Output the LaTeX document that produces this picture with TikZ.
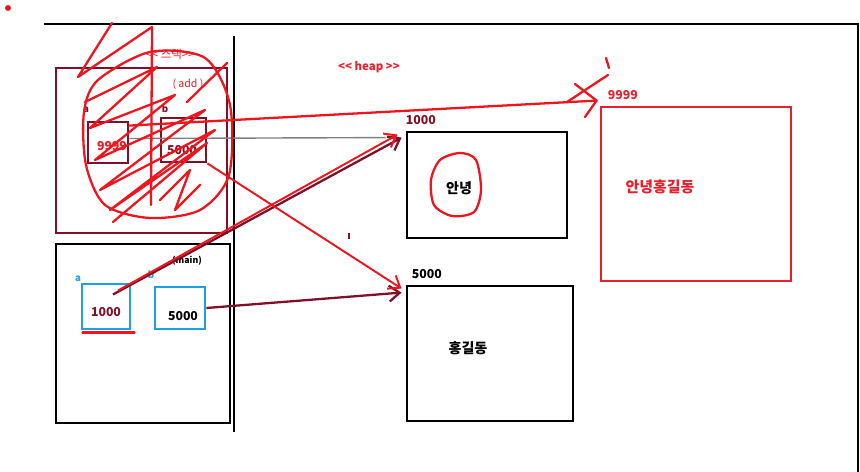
\documentclass[tikz,border=0pt]{standalone}
\usepackage{fontspec}
\setmainfont{Noto Sans CJK KR}
\usetikzlibrary{arrows.meta,calc,fit}

\definecolor{penred}{RGB}{240,20,30}
\definecolor{boxred}{RGB}{232,32,44}
\definecolor{stackred}{RGB}{128,16,40}
\definecolor{boxblue}{RGB}{28,162,226}

\begin{document}
\begin{tikzpicture}[x=0.02cm,y=-0.02cm,>={Straight Barb[length=6pt,width=9pt]},
    frame/.style={draw,line width=1.6pt,inner sep=0pt},
    val/.style={font=\fontsize{7}{8}\selectfont\bfseries},
    tag/.style={font=\fontsize{5.5}{6}\selectfont\bfseries},
    pen/.style={draw=penred,line width=1.3pt,line cap=round,line join=round}]
    \useasboundingbox (0,0) rectangle (860,472);
    \fill[penred] (8,8) circle (3);

    % window frame and the stack / heap divider
    \draw[line width=1.6pt] (44,24) -- (858,24) -- (858,472);
    \draw[line width=1.6pt] (234,36) -- (234,432);

    % stack: add() frame
    \node[frame,draw=stackred,fit={(56,68) (227,233)}] (add) {};
    \node[tag,text=stackred] (la) at (86,110) {a};
    \node[tag,text=stackred] (lb) at (165,109) {b};
    \node[frame,draw=stackred,fit={(88,122) (128,163)}] (sa) {};
    \node[frame,draw=stackred,fit={(161,118) (206,162)}] (sb) {};
    \node[val,text=penred] (va) at (112,146) {9999};
    \node[val,text=stackred] (vb) at (182,150) {5000};
    \node[font=\fontsize{6.5}{7}\selectfont,text=penred] (stk) at (170,54) {<\kern0pt< 스택>\kern0pt>};
    \node[font=\fontsize{6}{7}\selectfont,text=penred] (addl) at (188,84) {( add )};

    % stack: main() frame
    \node[frame,fit={(56,244) (230,423)}] (main) {};
    \node[font=\fontsize{5}{6}\selectfont\bfseries] (mainl) at (187,261) {(main)};
    \node[tag,text=boxblue] (lma) at (78,279) {a};
    \node[tag,text=boxblue] (lmb) at (151,275) {b};
    \node[frame,draw=boxblue,fit={(82,284) (130,329)}] (ma) {};
    \node[frame,draw=boxblue,fit={(155,287) (205,329)}] (mb) {};
    \node[val,text=stackred] (vma) at (106,312) {1000};
    \node[val] (vmb) at (183,316) {5000};
    \draw[pen] (ma.south west) ++(2,2) -- ($(ma.south east)+(3,2)$);

    % heap
    \node[font=\fontsize{6.5}{7}\selectfont\bfseries,text=boxred] (heap) at (369,67) {<\kern0pt< heap >\kern0pt>};
    \node[frame,fit={(407,132) (567,238)}] (h1000) {};
    \node[val,text=stackred,anchor=south west] (a1000) at ($(h1000.north west)+(-6,0)$) {1000};
    \node[font=\fontsize{8}{9}\selectfont\bfseries] (hi) at (459,188) {안녕};
    \node[frame,fit={(407,286) (573,421)}] (h5000) {};
    \node[val,anchor=south west] (a5000) at (h5000.north west) {5000};
    \node[font=\fontsize{8}{9}\selectfont\bfseries] (hong) at (468,348) {홍길동};
    \node[frame,draw=boxred,fit={(601,107) (791,281)}] (h9999) {};
    \node[val,text=boxred,anchor=south west] (a9999) at ($(h9999.north west)+(2,0)$) {9999};
    \node[font=\fontsize{8.5}{9}\selectfont\bfseries,text=boxred] (hihong) at (660,187) {안녕홍길동};
    \draw[pen] plot[smooth cycle] coordinates {(440,160) (460,153) (476,160) (481,190) (474,212) (452,216) (434,205) (431,180)};

    % pointers
    \draw[gray,line width=0.8pt] ($(sa.east)+(0,-4)$) -- ($(h1000.north west)+(-20,7)$);
    \draw[->,stackred,line width=1.3pt] ($(ma)+(7,-12)$) -- ($(h1000.north west)+(-4,7)$);
    \draw[->,penred,line width=1.1pt] ($(ma)+(12,-16)$) -- ($(h1000.north west)+(-8,4)$);
    \draw[->,stackred,line width=1.3pt] (mb.east) -- ($(h5000.north west)+(-4,8)$);
    \draw[->,penred,line width=1.1pt] (sb.south east) -- ($(h5000.north west)+(-4,4)$);
    \coordinate (tip) at ($(h9999.north west)+(-3,-5)$);
    \draw[pen] (sa.north east) ++(0,5) -- (tip);
    \draw[pen] (575,84) -- (tip) -- (585,117);
    \draw[pen] (608,75) -- (567,102);
    \draw[pen] (606,58) -- (609,68);
    \draw[stackred,line width=1.2pt] (349,233) -- (349,239);

    % scribbles over add()
    \draw[pen] plot[smooth cycle] coordinates {(98,80) (150,52) (205,58) (230,105) (229,175) (200,210) (150,218) (105,205) (86,165) (84,112)};
    \draw[pen] (112,23) -- (78,77) -- (152,27) -- (151,205);
    \draw[pen] (85,102) -- (157,67) -- (90,128) -- (175,95) -- (95,160) -- (205,110)
      -- (100,190) -- (215,130) -- (110,210) -- (207,143) -- (113,222);
    \draw[pen] (227,63) -- (187,102);
    \draw[pen] (160,200) -- (190,170) -- (175,210) -- (200,185);
\end{tikzpicture}
\end{document}
